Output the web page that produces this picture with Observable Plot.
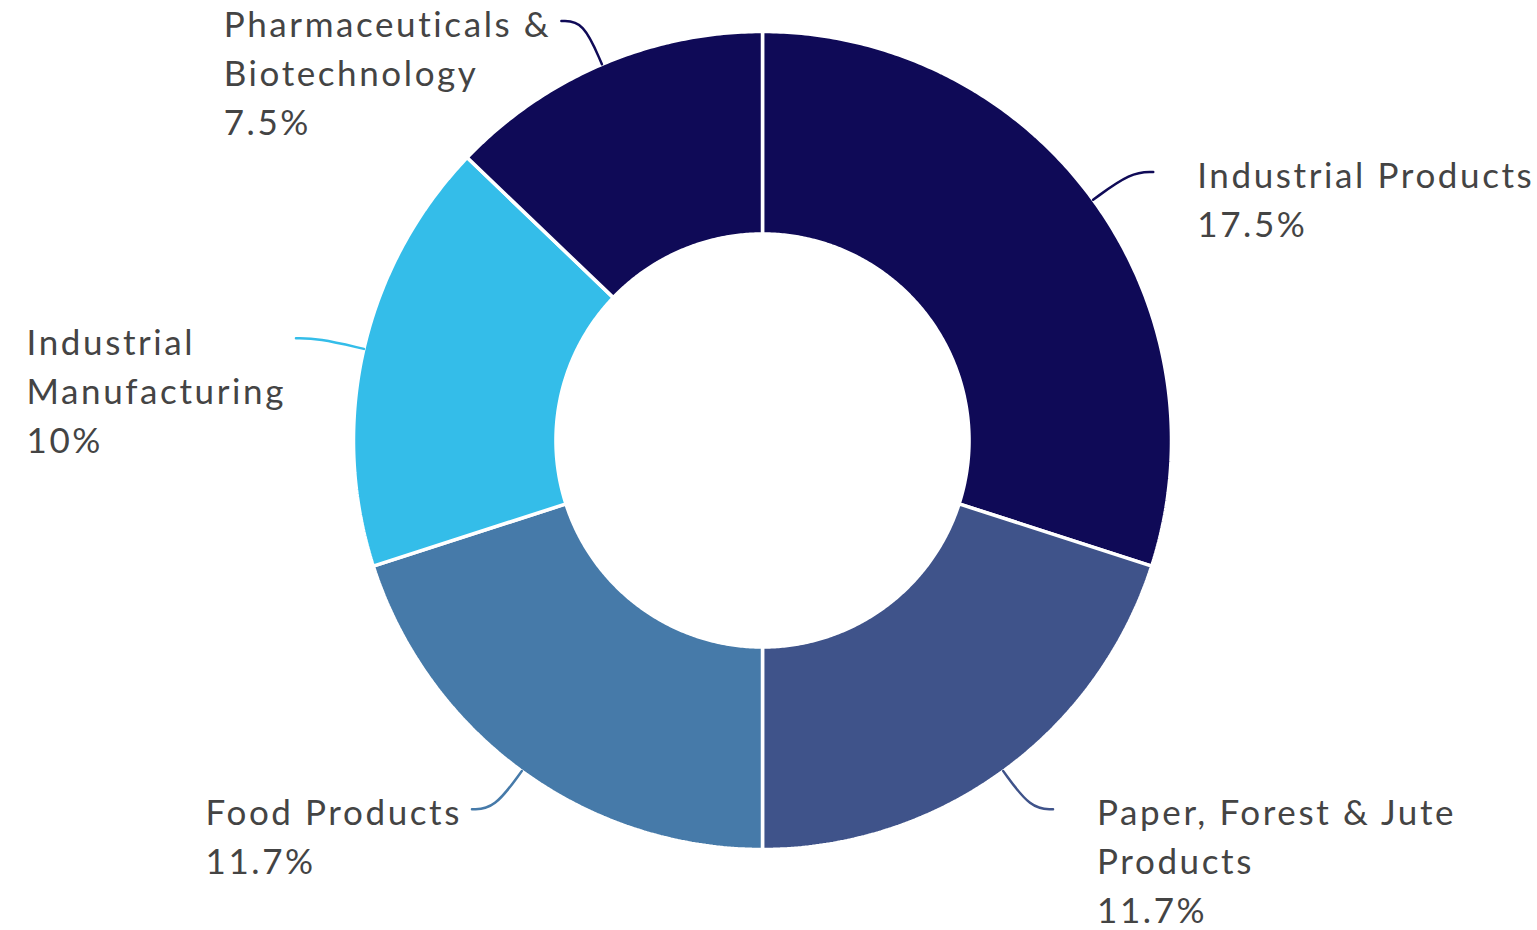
<!DOCTYPE html>
<html>
<head>
<meta charset="utf-8">
<script src="https://cdn.jsdelivr.net/npm/d3@7"></script>
<script src="https://cdn.jsdelivr.net/npm/@observablehq/plot@0.6"></script>
<style>
  html, body { margin: 0; padding: 0; background: #ffffff; }
  #chart { width: 1537px; height: 930px; overflow: hidden; }
</style>
</head>
<body>
<div id="chart"></div>
<script>
// ---- data ----
const categories = [
  "Industrial Products",
  "Paper, Forest & Jute Products",
  "Food Products",
  "Industrial Manufacturing",
  "Pharmaceuticals & Biotechnology"
];
const shares = [17.5, 11.7, 11.7, 10, 7.5];
const shareLabels = ["17.5%", "11.7%", "11.7%", "10%", "7.5%"];
const wrappedNames = [
  "Industrial Products",
  "Paper, Forest & Jute\nProducts",
  "Food Products",
  "Industrial\nManufacturing",
  "Pharmaceuticals &\nBiotechnology"
];
const sliceColors = ["#0f0a57", "#3f538a", "#467aa9", "#34bde9", "#0f0a57"];

// ---- layout ----
const W = 1537, H = 930;
const cx = 762, cy = 440, R = 409;
const innerRatio = 0.505;
const elbowRatio = 1.115, tailLen = 0.054;
const FONT = 35;

// ---- geometry (unit radius, angle clockwise from top) ----
const pie = d3.pie().sort(null).value(d => d)(shares);
const pt = (a, r) => ({x: r * Math.sin(a), y: -r * Math.cos(a)});

const slicePts = [];
pie.forEach((p, i) => {
  const n = Math.max(8, Math.ceil((p.endAngle - p.startAngle) / (Math.PI / 360)));
  const ring = [];
  for (let k = 0; k <= n; k++) ring.push(pt(p.startAngle + (p.endAngle - p.startAngle) * k / n, 1));
  for (let k = n; k >= 0; k--) ring.push(pt(p.startAngle + (p.endAngle - p.startAngle) * k / n, innerRatio));
  ring.push(ring[0]);
  ring.forEach((q, j) => slicePts.push({...q, key: categories[i], order: j}));
});

const leaderPts = [];
const labels = [];
pie.forEach((p, i) => {
  const mid = (p.startAngle + p.endAngle) / 2;
  const right = Math.sin(mid) > 0;
  const a = pt(mid, 1), b = pt(mid, elbowRatio);
  const c = {x: b.x + (right ? tailLen : -tailLen), y: b.y};
  [a, b, c].forEach((q, j) => leaderPts.push({...q, key: categories[i], order: j}));
  labels.push({x: c.x, y: c.y, right, text: wrappedNames[i] + "\n" + shareLabels[i]});
});

const colorScale = {domain: categories, range: sliceColors};

const chart = Plot.plot({
  width: W,
  height: H,
  margin: 0,
  x: {domain: [-cx / R, (W - cx) / R], range: [0, W], axis: null},
  y: {domain: [-cy / R, (H - cy) / R], range: [0, H], axis: null},
  color: colorScale,
  style: {fontFamily: "Lato, 'Open Sans', sans-serif", background: "#ffffff", letterSpacing: "2.6px"},
  marks: [
    Plot.line(slicePts, {
      x: "x", y: "y", z: "key", fill: "key", stroke: "#ffffff",
      strokeWidth: 3.5, strokeLinejoin: "miter", sort: null
    }),
    Plot.line(leaderPts, {
      x: "x", y: "y", z: "key", stroke: "key", strokeWidth: 2.5,
      curve: "basis", sort: null
    }),
    Plot.text(labels.filter(d => d.right), {
      x: "x", y: "y", text: "text", textAnchor: "start", lineAnchor: "top",
      lineHeight: 49 / FONT, fontSize: FONT, fill: "#444444", dx: 44, dy: -18.5
    }),
    Plot.text(labels.filter(d => !d.right), {
      x: "x", y: "y", text: "text", textAnchor: "end", lineAnchor: "top",
      lineHeight: 49 / FONT, fontSize: FONT, fill: "#444444", dx: -10, dy: -18.5
    })
  ]
});

document.getElementById("chart").appendChild(chart);

// left-side labels: keep the block's right edge at the anchor but left-align its lines
chart.querySelectorAll('g[text-anchor="end"] text').forEach(t => {
  const w = t.getBBox().width;
  t.setAttribute("text-anchor", "start");
  const spans = t.querySelectorAll("tspan");
  if (spans.length) spans.forEach(s => s.setAttribute("x", -w));
  else t.setAttribute("x", -w);
});
</script>
</body>
</html>
